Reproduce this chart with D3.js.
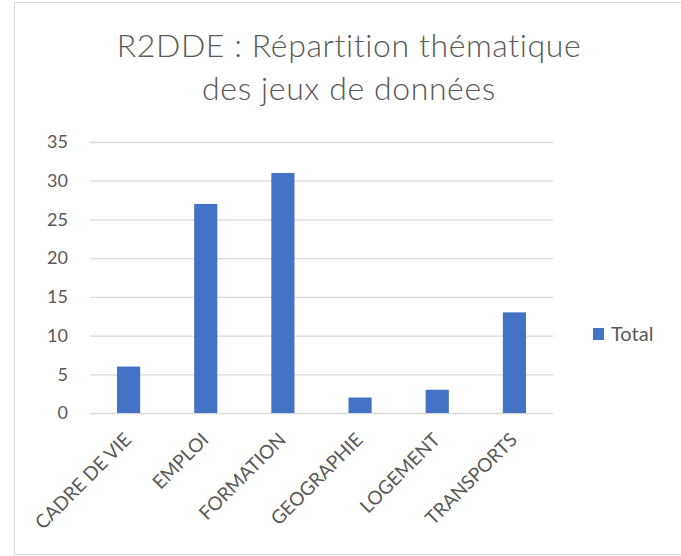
<!DOCTYPE html>
<html>
<head>
<meta charset="utf-8">
<script src="https://cdn.jsdelivr.net/npm/d3@7"></script>
<style>
  body { margin: 0; background: #fff; }
  svg { display: block; font-family: Lato, "Open Sans", sans-serif; }
</style>
</head>
<body>
<svg id="chart" width="681" height="556"></svg>
<script>
// chart data
let categories = ["CADRE DE VIE", "EMPLOI", "FORMATION", "GEOGRAPHIE", "LOGEMENT", "TRANSPORTS"];
let totals = [6, 27, 31, 2, 3, 13];
let yTicks = [0, 5, 10, 15, 20, 25, 30, 35];
let titleLines = ["R2DDE : Répartition thématique", "des jeux de données"];
let seriesName = "Total";

var drawBarChart = function() {
  let svg = d3.select("#chart");
  let margin = { top: 142, right: 128, bottom: 143, left: 90 };
  let plotWidth = 681 - margin.left - margin.right;
  let plotHeight = 556 - margin.top - margin.bottom;

  // outer frame of the chart area
  svg.append("rect")
    .attr("x", 14.5).attr("y", 2.5)
    .attr("width", 700).attr("height", 552)
    .attr("fill", "none")
    .attr("stroke", "#d9d9d9");

  // title
  svg.append("text")
    .attr("text-anchor", "middle")
    .attr("fill", "#595959")
    .style("font-size", "32px")
    .style("font-weight", 300)
    .style("letter-spacing", "0.6px")
    .selectAll("tspan")
    .data(titleLines)
    .enter().append("tspan")
      .attr("x", 349)
      .attr("y", function(d, i) { return 57 + i * 43; })
      .text(function(d) { return d; });

  let yScale = d3.scaleLinear()
    .domain([0, 35])
    .range([plotHeight, 0]);

  let xScale = d3.scaleBand()
    .domain(categories)
    .range([0, plotWidth]);

  let barWidth = xScale.bandwidth() * 0.3;

  let plot = svg.append("g")
    .attr("transform", "translate(" + margin.left + "," + margin.top + ")");

  // gridlines + y labels
  let yAxis = d3.axisLeft(yScale)
    .tickValues(yTicks)
    .tickSize(-plotWidth)
    .tickPadding(22);

  let yGroup = plot.append("g").attr("id", "y-axis").call(yAxis);
  yGroup.select(".domain").remove();
  yGroup.selectAll("line").attr("stroke", "#d9d9d9").attr("stroke-width", 1.3);
  yGroup.selectAll("text")
    .attr("fill", "#595959")
    .style("font-size", "18px")
    .style("font-family", "Lato, sans-serif");

  // bars
  plot.selectAll("rect.bar")
    .data(totals)
    .enter().append("rect")
      .attr("class", "bar")
      .attr("x", function(d, i) { return xScale(categories[i]) + (xScale.bandwidth() - barWidth) / 2; })
      .attr("y", function(d) { return yScale(d); })
      .attr("width", barWidth)
      .attr("height", function(d) { return plotHeight - yScale(d); })
      .attr("fill", "#4472c4");

  // x labels, rotated
  let xAxis = d3.axisBottom(xScale).tickSize(0).tickPadding(0);
  let xGroup = plot.append("g")
    .attr("id", "x-axis")
    .attr("transform", "translate(0," + plotHeight + ")")
    .call(xAxis);
  xGroup.select(".domain").remove();
  xGroup.selectAll("text")
    .attr("fill", "#595959")
    .style("font-size", "19px")
    .style("font-family", "Lato, sans-serif")
    .attr("text-anchor", "end")
    .attr("dy", null)
    .attr("y", null)
    .attr("transform", "translate(4,28) rotate(-45)");

  // legend
  let legend = svg.append("g").attr("transform", "translate(593,328)");
  legend.append("rect")
    .attr("width", 11).attr("height", 12)
    .attr("fill", "#4472c4");
  legend.append("text")
    .attr("x", 18).attr("y", 13)
    .attr("fill", "#595959")
    .style("font-size", "20px")
    .text(seriesName);
}

drawBarChart();
</script>
</body>
</html>
